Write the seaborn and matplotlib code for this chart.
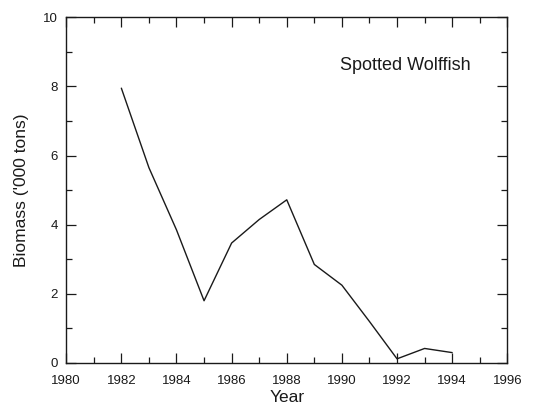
import matplotlib
matplotlib.use("Agg")
import matplotlib.pyplot as plt
import seaborn as sns
import pandas as pd
from matplotlib.ticker import MultipleLocator

years = [1982, 1983, 1984, 1985, 1986, 1987, 1988, 1989, 1990, 1991, 1992, 1993, 1994]
biomass = [7.95, 5.65, 3.85, 1.8, 3.47, 4.15, 4.72, 2.85, 2.25, 1.2, 0.12, 0.42, 0.3]

df = pd.DataFrame({"Year": years, "Biomass": biomass})

sns.set_theme(style="ticks")
plt.rcParams["font.family"] = ["Liberation Sans", "DejaVu Sans"]

fig = plt.figure(figsize=(5.34, 4.12), dpi=100)
ax = fig.add_axes([0.124, 0.119, 0.826, 0.839])

sns.lineplot(data=df, x="Year", y="Biomass", ax=ax, color="#1a1a1a", linewidth=1.0)

ax.set_xlim(1980, 1996)
ax.set_ylim(0, 10)
ax.xaxis.set_major_locator(MultipleLocator(2))
ax.xaxis.set_minor_locator(MultipleLocator(1))
ax.yaxis.set_major_locator(MultipleLocator(2))
ax.yaxis.set_minor_locator(MultipleLocator(1))
ax.tick_params(which="both", direction="in", top=True, right=True, colors="#1a1a1a",
               labelsize=9.5, width=0.9)
ax.tick_params(which="major", length=7)
ax.tick_params(which="minor", length=4)
ax.tick_params(axis="x", which="major", pad=9)
ax.tick_params(axis="y", which="major", pad=6)
for s in ax.spines.values():
    s.set_visible(True)
    s.set_linewidth(1.0)
    s.set_color("#1a1a1a")

ax.set_xlabel("Year", fontsize=12.5, color="#1a1a1a", labelpad=2)
ax.set_ylabel("Biomass ('000 tons)", fontsize=12.5, color="#1a1a1a", labelpad=10)
ax.text(1992.3, 8.6, "Spotted Wolffish", fontsize=13, ha="center", va="center", color="#1a1a1a")

fig.savefig("out.png", dpi=100)
